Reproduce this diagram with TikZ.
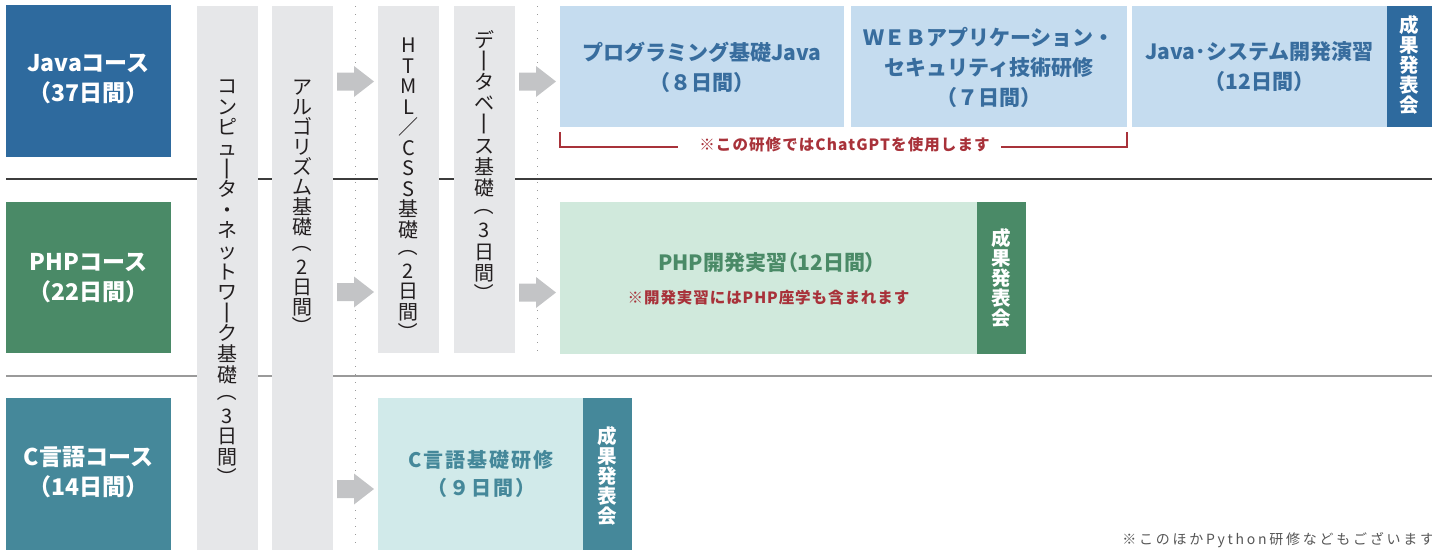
\documentclass[tikz,border=0pt]{standalone}
\usepackage{fontspec}
\usepackage{graphicx}
\setmainfont{Noto Sans CJK JP}
\definecolor{javaD}{HTML}{2E6A9E}
\definecolor{javaL}{HTML}{C5DCEF}
\definecolor{javaT}{HTML}{386D9E}
\definecolor{phpD}{HTML}{4A8A67}
\definecolor{phpL}{HTML}{D0E9DC}
\definecolor{cD}{HTML}{45889A}
\definecolor{cL}{HTML}{D1EAEA}
\definecolor{colG}{HTML}{E6E7E9}
\definecolor{arrG}{HTML}{C3C4C6}
\definecolor{noteR}{HTML}{A8323A}
\definecolor{vtxt}{HTML}{231F20}
\definecolor{lineD}{HTML}{3C3C3C}
\definecolor{lineL}{HTML}{9A9A9A}
\definecolor{dotG}{HTML}{9A9A9A}
\definecolor{moreG}{HTML}{555555}
\newcommand\fsz[2]{\fontsize{#1}{#2}\selectfont}
\newcommand\vtf[2]{\fontsize{#1}{#2}\selectfont\lineskiplimit=-100pt\lineskip=0pt\relax}
\newcommand\rotc[1]{\rotatebox[origin=c]{-90}{\rule[-0.12em]{0pt}{1em}#1}}
\newcommand\vbar{\rotc{\scalebox{1.25}[1]{ー}}}
\newcommand\vlp{\raisebox{0.2em}{\rotc{（}}}
\newcommand\vrp{\rotc{）}}
\begin{document}
\begin{tikzpicture}[x=1pt,y=-1pt,
  every node/.style={inner sep=0pt,outer sep=0pt},
  rbox/.style={fill=#1,draw=none},
  vt/.style={align=center,text=vtxt},
  lbl/.style={align=center,text=white,font=\bfseries\fsz{23}{30}},
  jlbl/.style={align=center,text=javaT,font=\bfseries\fsz{21}{30}},
  present/.style={align=center,text=white,font={\bfseries\vtf{19.5}{20}}},
  bracket/.style={draw=noteR,line width=1.4pt},
  dotline/.style={draw=dotG,line width=1pt,dash pattern=on 1pt off 7pt},
  blockarrow/.pic={\fill[arrG] (-18.5,-9) -- (-1.5,-9) -- (-1.5,-15.5) -- (18.5,0) -- (-1.5,15.5) -- (-1.5,9) -- (-18.5,9) -- cycle;}
]
\useasboundingbox (0,0) rectangle (1432,550);
% row separators
\draw[draw=lineD,line width=1.3pt] (6,179) -- (1432,179);
\draw[draw=lineL,line width=2pt] (6,376) -- (1432,376);
% dotted guides
\draw[dotline] (355,6) -- (355,550);
\draw[dotline] (537,6) -- (537,354);
% course boxes
\node[rbox=javaD,minimum width=165,minimum height=152] (javaC) at (88.5,81) {};
\node[rbox=phpD,minimum width=165,minimum height=151] (phpC) at (88.5,277.5) {};
\node[rbox=cD,minimum width=165,minimum height=152] (cC) at (88.5,474) {};
\node[lbl] (javaCt) at (88.5,79) {Javaコース\\（37日間）};
\node[lbl] (phpCt) at (88.5,278) {PHPコース\\（22日間）};
\node[lbl] (cCt) at (88.5,472) {C言語コース\\（14日間）};
% common columns
\node[rbox=colG,minimum width=61,minimum height=544] (col1) at (227.5,278) {};
\node[rbox=colG,minimum width=61,minimum height=544] (col2) at (302.5,278) {};
\node[rbox=colG,minimum width=61,minimum height=347] (col3) at (408.5,179.5) {};
\node[rbox=colG,minimum width=61,minimum height=347] (col4) at (484.5,179.5) {};
\node[vt,font={\vtf{20}{20.6}},anchor=north] (col1t) at (227.5,80)
 {コ\\ン\\ピ\\ュ\\\vbar\\タ\\・\\ネ\\ッ\\ト\\ワ\\\vbar\\ク\\基\\礎\\\vlp\\3\\日\\間\\\vrp};
\node[vt,font={\vtf{20}{20}},anchor=north] (col2t) at (302.5,80)
 {ア\\ル\\ゴ\\リ\\ズ\\ム\\基\\礎\\\vlp\\2\\日\\間\\\vrp};
\node[vt,font={\vtf{20}{20.5}},anchor=north] (col3t) at (408.5,38)
 {H\\T\\M\\L\\／\\C\\S\\S\\基\\礎\\\vlp\\2\\日\\間\\\vrp};
\node[vt,font={\vtf{20}{21.2}},anchor=north] (col4t) at (484.5,30)
 {デ\\\vbar\\タ\\ベ\\\vbar\\ス\\基\\礎\\\vlp\\3\\日\\間\\\vrp};
% Java row
\node[rbox=javaL,minimum width=284,minimum height=121] (j1) at (702,66.5) {};
\node[rbox=javaL,minimum width=276,minimum height=121] (j2) at (989,66.5) {};
\node[rbox=javaL,minimum width=255,minimum height=121] (j3) at (1259.5,66.5) {};
\node[rbox=javaD,minimum width=45,minimum height=121] (jP) at (1409.5,66.5) {};
\node[jlbl] (j1t) at (702,67) {プログラミング基礎Java\\（８日間）};
\node[jlbl] (j2t) at (989,67) {ＷＥＢアプリケーション・\\セキュリティ技術研修\\（７日間）};
\node[jlbl] (j3t) at (1259.5,67) {Java･システム開発演習\\（12日間）};
\node[present] (jPt) at (1409.5,65) {成\\果\\発\\表\\会};
\node[text=noteR,font={\bfseries\fsz{15.5}{15.5}\addfontfeatures{LetterSpace=7}}] (gpt) at (844.5,145) {※この研修ではChatGPTを使用します};
\draw[bracket] ([yshift=-5pt]j1.south west) |- ([xshift=-21pt,yshift=-2pt]gpt.west);
\draw[bracket] ([yshift=-5pt]j2.south east) |- ([xshift=11pt,yshift=-2pt]gpt.east);
% PHP row
\node[rbox=phpL,minimum width=417,minimum height=152] (p1) at (768.5,278) {};
\node[rbox=phpD,minimum width=49,minimum height=152] (pP) at (1001.5,278) {};
\node[text=phpD,font={\bfseries\fsz{21}{21}\addfontfeatures{RawFeature=+palt}}] (p1t) at (767,263) {PHP開発実習（12日間）};
\node[text=noteR,font={\bfseries\fsz{15.5}{15.5}\addfontfeatures{LetterSpace=6}}] (p1n) at (768.5,298) {※開発実習にはPHP座学も含まれます};
\node[present] (pPt) at (1001.5,278) {成\\果\\発\\表\\会};
% C row
\node[rbox=cL,minimum width=205,minimum height=152] (c1) at (480.5,474) {};
\node[rbox=cD,minimum width=49,minimum height=152] (cP) at (607.5,474) {};
\node[align=center,text=cD,font={\bfseries\fsz{20}{28}\addfontfeatures{LetterSpace=10}}] (c1t) at (481,474) {C言語基礎研修\\（９日間）};
\node[present] (cPt) at (607.5,476) {成\\果\\発\\表\\会};
% arrows
\pic at (355.5,81.5) {blockarrow};
\pic at (537.5,81.5) {blockarrow};
\pic at (355.5,292) {blockarrow};
\pic at (537.5,292.5) {blockarrow};
\pic at (355.5,489) {blockarrow};
% footnote
\node[anchor=east,text=moreG,font={\fsz{14}{14}\addfontfeatures{LetterSpace=19.5}}] (more) at (1434,540) {※このほかPython研修などもございます};
\end{tikzpicture}
\end{document}
